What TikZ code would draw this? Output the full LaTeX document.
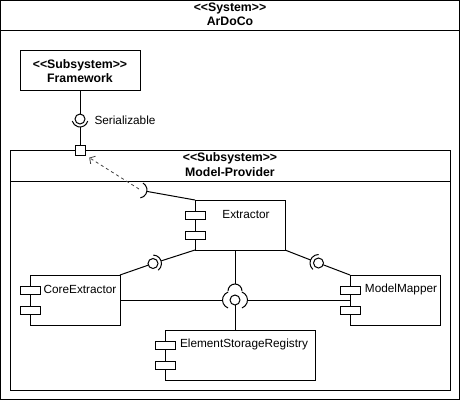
\documentclass[tikz,border=0pt]{standalone}
\usepackage{fontspec}
\setmainfont{Liberation Sans}
\usetikzlibrary{arrows.meta}
\begin{document}
\begin{tikzpicture}[x=1pt,y=-1pt,line width=1pt,
  every node/.style={inner sep=0pt,outer sep=0pt},
  lbl/.style={font=\fontsize{11.8}{14}\selectfont},
  hdr/.style={font=\fontsize{12.3}{14.5}\selectfont\bfseries,align=center},
  frame/.style={draw,minimum width=#1},
  comp/.style={draw,fill=white,minimum width=#1,minimum height=50pt},
  icon/.style={draw,fill=white,minimum width=20pt,minimum height=8pt},
  ball/.style={draw,circle,fill=white,minimum size=10pt},
  dep/.style={draw=black!75,line width=0.8pt,dash pattern=on 3pt off 3pt,-{Straight Barb[length=4pt,width=9pt]},shorten >=5pt}
]
\useasboundingbox (0,0) rectangle (461,402);

% System frame
\node[frame=459pt,minimum height=399pt] (sys) at (230,200) {};
\draw (0.5,30) -- (459.5,30);
\node[hdr] (syst) at (230,14.5) {<{}<System>{}>\\ArDoCo};

% Framework
\node[frame=120pt,minimum height=40pt] (fw) at (80,70) {};
\node[hdr] (fwt) at (80,71) {<{}<Subsystem>{}>\\Framework};

% Model-Provider
\node[frame=440pt,minimum height=240pt] (mp) at (230,270) {};
\draw (10,181) -- (450,181);
\node[hdr] (mpt) at (230,164.5) {<{}<Subsystem>{}>\\Model-Provider};

% port
\node[draw,fill=white,minimum size=10pt] (port) at (80,150) {};

% Serializable interface
\node[ball] (ser) at (80,119) {};
\draw (80,119) ++(15:8) arc[start angle=15,end angle=165,radius=8];
\coordinate (sersock) at (80,127);
\node[lbl,anchor=west] (serl) at (94.5,120) {Serializable};
\draw (fw.south) -- (ser.north);
\draw (sersock) -- (port.north);

% Components
\node[comp=90pt] (ext) at (240,225) {};
\node[icon] (exta) at (195,215) {};
\node[icon] (extb) at (195,235) {};
\node[lbl] (extt) at (246,214) {Extractor};

\node[comp=90pt] (core) at (75,300) {};
\node[icon] (corea) at (30,290) {};
\node[icon] (coreb) at (30,310) {};
\node[lbl] (coret) at (80,289) {CoreExtractor};

\node[comp=90pt] (map) at (395,300) {};
\node[icon] (mapa) at (350,290) {};
\node[icon] (mapb) at (350,310) {};
\node[lbl] (mapt) at (401,289) {ModelMapper};

\node[comp=150pt] (esr) at (240,355) {};
\node[icon] (esra) at (165,345) {};
\node[icon] (esrb) at (165,365) {};
\node[lbl] (esrt) at (244,344) {ElementStorageRegistry};

% required interface of Extractor towards port
\draw (139,190) ++(-60:8) arc[start angle=-60,end angle=80,radius=8];
\coordinate (req0) at (146.9,191.4);
\coordinate (req0c) at (139,189);
\draw (ext.north west) -- (req0);
\draw[dep] (req0c) -- (port.south east);

% left interface
\node[ball] (ball1) at (153,263.5) {};
\draw (153,263.5) ++(-88:8.5) arc[start angle=-88,end angle=52,radius=8.5];
\coordinate (sock1) at (161.1,260.9);
\draw (core.north east) -- (ball1);
\draw (ext.south west) -- (sock1);

% right interface
\node[ball] (ball2) at (318.5,263) {};
\draw (318.5,263) ++(131:8.5) arc[start angle=131,end angle=271,radius=8.5];
\coordinate (sock2) at (310.6,260);
\draw (ball2) -- (map.north west);
\draw (ext.south east) -- (sock2);

% central hub
\node[ball] (hub) at (235,300) {};
\draw (235,291) ++(180:7) arc[start angle=180,end angle=360,radius=7];
\draw (231,300) ++(110:8.5) arc[start angle=110,end angle=250,radius=8.5];
\draw (239,300) ++(-70:8.5) arc[start angle=-70,end angle=70,radius=8.5];
\coordinate (hubtop) at (235,284);
\coordinate (hubl) at (222.5,300);
\coordinate (hubr) at (247.5,300);
\draw (ext.south -| hub) -- (hubtop);
\draw (core.east) -- (hubl);
\draw (map.west) -- (hubr);
\draw (hub.south) -- (hub.south |- esr.north);
\end{tikzpicture}
\end{document}
